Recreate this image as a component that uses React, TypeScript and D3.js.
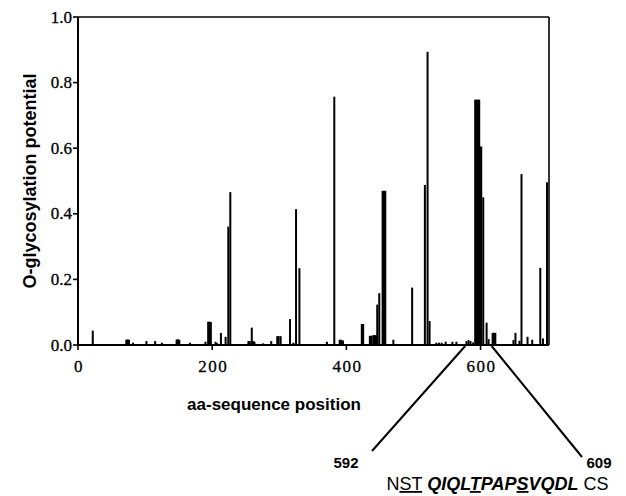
import React from "react";
import * as d3 from "d3";

// amino-acid positions and O-glycosylation potentials
const positions = [22, 72, 74, 76, 82, 102, 115, 125, 147, 149, 151, 167, 190, 194, 196, 198, 205, 207, 213, 220, 224, 227, 254, 256, 259, 261, 263, 276, 288, 297, 299, 302, 316, 321, 325, 330, 371, 382, 390, 392, 395, 423, 425, 435, 437, 440, 442, 444, 446, 449, 454, 456, 458, 470, 498, 517, 521, 524, 534, 538, 542, 548, 558, 564, 579, 582, 585, 589, 592, 594, 596, 598, 599, 601, 604, 609, 612, 618, 620, 622, 649, 652, 658, 661, 670, 677, 689, 693, 699];
const values = [0.044, 0.016, 0.017, 0.016, 0.007, 0.012, 0.012, 0.007, 0.017, 0.017, 0.016, 0.007, 0.01, 0.071, 0.071, 0.07, 0.01, 0.006, 0.037, 0.025, 0.361, 0.466, 0.012, 0.012, 0.053, 0.012, 0.01, 0.005, 0.012, 0.027, 0.027, 0.027, 0.079, 0.007, 0.414, 0.234, 0.01, 0.757, 0.016, 0.016, 0.014, 0.064, 0.064, 0.028, 0.028, 0.03, 0.03, 0.03, 0.123, 0.158, 0.47, 0.47, 0.47, 0.016, 0.175, 0.488, 0.894, 0.073, 0.007, 0.007, 0.007, 0.01, 0.01, 0.01, 0.012, 0.015, 0.012, 0.008, 0.748, 0.748, 0.748, 0.748, 0.605, 0.605, 0.45, 0.068, 0.018, 0.037, 0.037, 0.037, 0.015, 0.037, 0.013, 0.521, 0.025, 0.016, 0.235, 0.02, 0.496];

const xTicks = [0, 200, 400, 600];
const yTicks = [0, 0.2, 0.4, 0.6, 0.8, 1.0];
const annotStart = 592;
const annotEnd = 609;

export default function App() {
  const W = 626, H = 496;
  const left = 78, right = 549, top = 17, bottom = 345;
  const x = d3.scaleLinear().domain([0, 702]).range([left, right]);
  const y = d3.scaleLinear().domain([0, 1]).range([bottom, top]);

  const lx0 = x(annotStart) - 10, lx1 = x(annotEnd) + 5;
  const sans = "Liberation Sans, Arial, sans-serif";
  const serif = "Liberation Serif, DejaVu Serif, Times New Roman, serif";

  return (
    <div style={{ position: "absolute", left: 0, top: 0 }}>
      <svg width={W} height={H} style={{ display: "block", background: "#fff" }}>
        {/* bars */}
        {positions.map((p, i) => (
          <rect key={i} x={x(p) - 1} width={2} y={y(values[i])} height={bottom - y(values[i])} fill="#000" />
        ))}
        {/* frame */}
        <line x1={left} x2={left} y1={top} y2={bottom + 1} stroke="#000" strokeWidth={2} />
        <line x1={left} x2={right} y1={bottom} y2={bottom} stroke="#000" strokeWidth={2} />
        <line x1={left} x2={right} y1={top} y2={top} stroke="#000" strokeWidth={1.6} />
        <line x1={right} x2={right} y1={top} y2={bottom} stroke="#000" strokeWidth={1.6} />
        {/* y ticks */}
        {yTicks.map((t) => (
          <g key={t}>
            <line x1={left - 5} x2={left} y1={y(t)} y2={y(t)} stroke="#000" strokeWidth={1.6} />
            <text x={left - 6} y={y(t) + 5.5} textAnchor="end" style={{ fontFamily: serif }} fontSize={17} stroke="#000" strokeWidth={0.3}>{t.toFixed(1)}</text>
          </g>
        ))}
        {/* x ticks */}
        {xTicks.map((t) => (
          <g key={t}>
            <line x1={x(t)} x2={x(t)} y1={bottom} y2={bottom + 5} stroke="#000" strokeWidth={1.6} />
            <text x={x(t) + 1} y={bottom + 27} textAnchor="middle" style={{ fontFamily: serif }} fontSize={17} letterSpacing={1.5} stroke="#000" strokeWidth={0.3}>{t}</text>
          </g>
        ))}
        {/* axis titles */}
        <text transform={`translate(36,${(top + bottom) / 2}) rotate(-90)`} textAnchor="middle" style={{ fontFamily: sans }} fontWeight="bold" fontSize={18}>O-glycosylation potential</text>
        <text x={274} y={410} textAnchor="middle" style={{ fontFamily: sans }} fontWeight="bold" fontSize={17}>aa-sequence position</text>
        {/* annotation */}
        <line x1={lx0} y1={bottom + 1} x2={372} y2={451} stroke="#000" strokeWidth={2} />
        <line x1={lx1} y1={bottom + 1} x2={582} y2={457} stroke="#000" strokeWidth={2} />
        <text x={346} y={468} textAnchor="middle" style={{ fontFamily: sans }} fontWeight="bold" fontSize={15}>{annotStart}</text>
        <text x={599} y={468} textAnchor="middle" style={{ fontFamily: sans }} fontWeight="bold" fontSize={15}>{annotEnd}</text>
        <text x={497.5} y={490} textAnchor="middle" style={{ fontFamily: sans }} fontSize={18}>
          <tspan>N</tspan>
          <tspan textDecoration="underline">ST</tspan>
          <tspan> </tspan>
          <tspan fontWeight="bold" fontStyle="italic">QIQL</tspan>
          <tspan fontWeight="bold" fontStyle="italic" textDecoration="underline">T</tspan>
          <tspan fontWeight="bold" fontStyle="italic">PAP</tspan>
          <tspan fontWeight="bold" fontStyle="italic" textDecoration="underline">S</tspan>
          <tspan fontWeight="bold" fontStyle="italic">VQDL</tspan>
          <tspan> CS</tspan>
        </text>
      </svg>
    </div>
  );
}
